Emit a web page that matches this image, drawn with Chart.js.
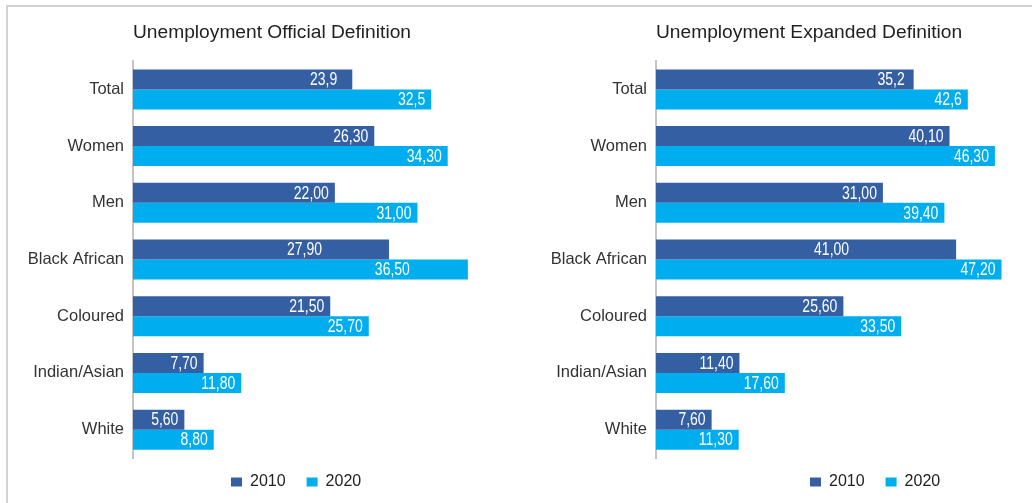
<!DOCTYPE html>
<html>
<head>
<meta charset="utf-8">
<script src="https://cdn.jsdelivr.net/npm/chart.js@4.4.0/dist/chart.umd.min.js"></script>
<style>
    html, body { margin: 0; padding: 0; background: #fff; overflow: hidden; }
    body { width: 1032px; height: 503px; position: relative; }
    .frame { position: absolute; left: 6px; top: 5px; right: 0; bottom: 0; border-top: 2px solid #d2d2d2; border-left: 2px solid #d2d2d2; }
    .panel { position: absolute; top: 0; height: 530px; }
    #leftPanel { left: 8px; width: 530px; }
    #rightPanel { left: 540px; width: 492px; }
</style>
</head>
<body>
<div class="frame"></div>
<div class="panel" id="leftPanel"><canvas id="officialChart"></canvas></div>
<div class="panel" id="rightPanel"><canvas id="expandedChart"></canvas></div>
<script>
// Unemployment by group, 2010 vs 2020

const categories = ['Total', 'Women', 'Men', 'Black African', 'Coloured', 'Indian/Asian', 'White'];
const years = ['2010', '2020'];
const decimals = [1, 2, 2, 2, 2, 2, 2]; // digits shown in the bar labels

const official2010 = [23.9, 26.3, 22.0, 27.9, 21.5, 7.7, 5.6];
const official2020 = [32.5, 34.3, 31.0, 36.5, 25.7, 11.8, 8.8];
const expanded2010 = [35.2, 40.1, 31.0, 41.0, 25.6, 11.4, 7.6];
const expanded2020 = [42.6, 46.3, 39.4, 47.2, 33.5, 17.6, 11.3];

const colors = ['#355fa3', '#00aeef'];
const baseFont = "'Liberation Sans', Arial, sans-serif";

// white value labels inside the bar ends (squeezed to look condensed)
const barLabels = {
    id: 'barLabels',
    afterDatasetsDraw(chart, args, opts) {
        const ctx = chart.ctx;
        chart.data.datasets.forEach((ds, di) => {
            chart.getDatasetMeta(di).data.forEach((bar, i) => {
                const text = ds.data[i].toFixed(decimals[i]).replace('.', ',');
                const inset = (opts.insets && opts.insets[di + '-' + i]) || 6;
                ctx.save();
                ctx.translate(bar.x - inset, bar.y + 1);
                ctx.scale(0.8, 1);
                ctx.font = "17.5px 'Liberation Sans', sans-serif";
                ctx.fillStyle = '#ffffff';
                ctx.textAlign = 'right';
                ctx.textBaseline = 'middle';
                ctx.fillText(text, 0, 0);
                ctx.restore();
            });
        });
    }
};

// nudge the legend away from the default spot
const legendShift = {
    id: 'legendShift',
    afterLayout(chart, args, opts) {
        const lg = chart.legend;
        if (!lg) return;
        lg.left += opts.dx || 0;
        lg.right += opts.dx || 0;
        lg.top += opts.dy || 0;
        lg.bottom += opts.dy || 0;
    }
};

function renderChart(canvasId, title, data2010, data2020, xMax, axisWidth, padRight, shift, insets) {
    const ctx = document.getElementById(canvasId).getContext('2d');

    return new Chart(ctx, {
        type: 'bar',
        data: {
            labels: categories,
            datasets: [{
                label: years[0],
                data: data2010,
                backgroundColor: colors[0],
                borderWidth: 0
            }, {
                label: years[1],
                data: data2020,
                backgroundColor: colors[1],
                borderWidth: 0
            }]
        },
        options: {
            indexAxis: 'y',
            responsive: true,
            maintainAspectRatio: false,
            animation: false,
            categoryPercentage: 0.705,
            barPercentage: 1,
            layout: {
                padding: { top: 21, right: padRight, bottom: 25, left: 0 }
            },
            plugins: {
                title: {
                    display: true,
                    text: title,
                    align: 'start',
                    fullSize: false,
                    color: '#222222',
                    font: { family: baseFont, size: 19.2, weight: 'normal' },
                    padding: { top: 0, bottom: 17 }
                },
                legend: {
                    position: 'bottom',
                    align: 'start',
                    fullSize: false,
                    labels: {
                        boxWidth: 11,
                        boxHeight: 9,
                        padding: 21,
                        color: '#222222',
                        font: { family: baseFont, size: 16 }
                    }
                },
                tooltip: { enabled: false },
                barLabels: { insets: insets },
                legendShift: shift
            },
            scales: {
                x: {
                    display: false,
                    min: 0,
                    max: xMax
                },
                y: {
                    afterFit: function (scale) {
                        scale.width = axisWidth;
                    },
                    grid: { display: false },
                    border: { display: true, color: '#c4c4c4', width: 2 },
                    ticks: {
                        padding: 1,
                        color: '#333333',
                        font: { family: baseFont, size: 16.5 }
                    }
                }
            }
        },
        plugins: [barLabels, legendShift]
    });
}

renderChart('officialChart', 'Unemployment Official Definition',
    official2010, official2020, 40, 125, 38, { dx: 77, dy: -5 }, { '0-0': 15, '0-3': 67, '1-3': 58 });
renderChart('expandedChart', 'Unemployment Expanded Definition',
    expanded2010, expanded2020, 50, 116, 10, { dx: 133, dy: -5 }, { '0-3': 107, '0-0': 9 });
</script>
</body>
</html>
